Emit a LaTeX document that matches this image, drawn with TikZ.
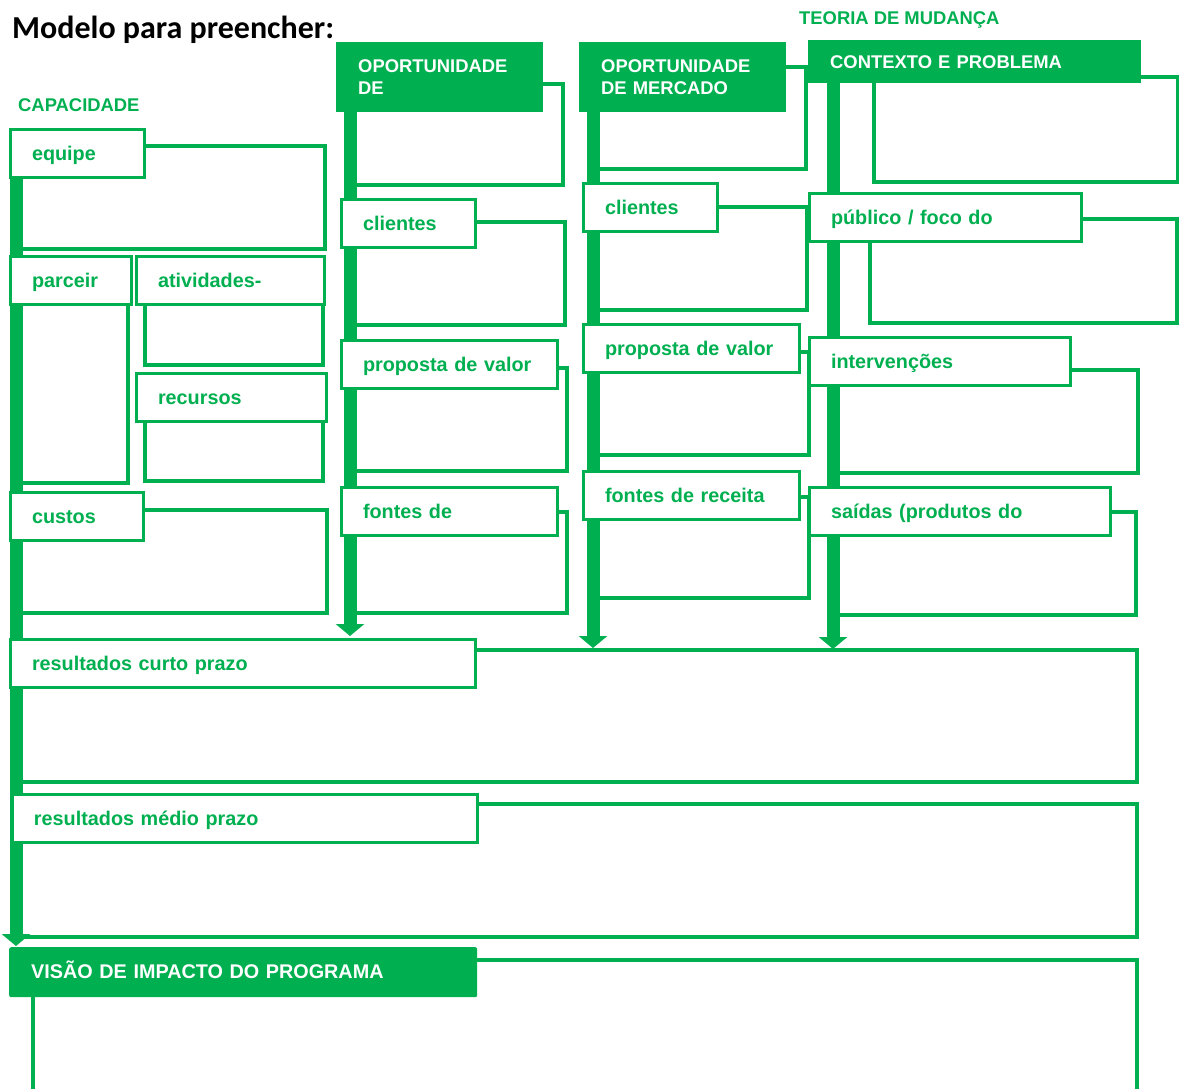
\documentclass[tikz,border=0pt]{standalone}
\usepackage{fontspec}
\setmainfont{Liberation Sans}
\newfontfamily\titlefont{Carlito}
\usetikzlibrary{arrows.meta,backgrounds}
\definecolor{ppgreen}{RGB}{0,176,80}

\begin{document}
\begin{tikzpicture}[x=1pt, y=-1pt,
  tag/.style={draw=ppgreen, fill=white, line width=3pt, anchor=north west, minimum height=48pt, inner xsep=21.5pt, inner ysep=0pt, text width=#1pt-43pt, text height=14pt, text depth=0pt, text=ppgreen, font=\bfseries\fontsize{19.8}{22}\selectfont},
  head/.style={fill=ppgreen, anchor=north west, inner xsep=22pt, inner ysep=0pt, text width=#1pt-44pt, align=left, text height=13.3pt, text=white, font=\bfseries\fontsize{18.4}{22}\selectfont},
  sect/.style={anchor=base west, inner sep=0pt, text=ppgreen, font=\bfseries\fontsize{18.4}{22}\selectfont},
  pane/.style={draw=ppgreen, line width=3.2pt},
  bar/.style={draw=ppgreen, line width=13pt, -{Triangle[length=12pt,width=28pt]}}
]
  \useasboundingbox (0,0) rectangle (1179,1088);

  % titles
  \node[anchor=base west, inner sep=0pt, font=\titlefont\bfseries\fontsize{32}{36}\selectfont] (title) at (12,38) {Modelo para preencher:};
  \node[sect] (capacidade) at (18,111) {CAPACIDADE};
  \node[sect] (teoria) at (799,24) {TEORIA DE MUDANÇA};

  % capacidade
  \node[tag=134] (equipe) at (9,128) {equipe};
  \node[tag=121] (parceir) at (9,255) {parceir};
  \node[tag=188] (ativ) at (135,255) {atividades-};
  \node[tag=190] (recursos) at (135,372) {recursos};
  \node[tag=133] (custos) at (9,491) {custos};
  \node[tag=465] (curto) at (9,638) {resultados curto prazo};
  \node[tag=465] (medio) at (11,793) {resultados médio prazo};

  % oportunidade de
  \node[head=207, minimum height=70pt] (oppa) at (336,42) {OPORTUNIDADE\\DE};
  \node[tag=134] (cliA) at (340,198) {clientes};
  \node[tag=216] (propA) at (340,339) {proposta de valor};
  \node[tag=216] (fontA) at (340,486) {fontes de};

  % oportunidade de mercado
  \node[head=207, minimum height=70pt] (oppb) at (579,42) {OPORTUNIDADE\\DE MERCADO};
  \node[tag=134] (cliB) at (582,182) {clientes};
  \node[tag=216] (propB) at (582,323) {proposta de valor};
  \node[tag=216] (fontB) at (582,470) {fontes de receita};

  % teoria de mudanca
  \node[head=333, minimum height=43pt] (ctx) at (808,40) {CONTEXTO E PROBLEMA};
  \node[tag=272] (publico) at (808,192) {público / foco do};
  \node[tag=261] (interv) at (808,336) {intervenções};
  \node[tag=301] (saidas) at (808,486) {saídas (produtos do};

  % impacto
  \node[head=468, minimum height=50pt, rounded corners=2pt, font=\bfseries\fontsize{19.8}{22}\selectfont] (visao) at (9,947) {VISÃO DE IMPACTO DO PROGRAMA};

  % arrow tips
  \coordinate (tipC) at (16,946);
  \coordinate (tipA) at (350,636);
  \coordinate (tipB) at (593,648);
  \coordinate (tipT) at (833,649);

  \begin{scope}[on background layer]
    % empty panes
    \foreach \xa/\ya/\xb/\yb in {16/146/325/249, 16/290/128/483, 145/290/323/365, 145/410/323/481,
        16/510/327/613, 16/650/1137/782, 16/804/1137/937,
        350/84/563/185, 350/222/565/325, 350/368/567/471, 350/512/567/613,
        593/67/806/169, 593/207/807/310, 593/352/809/455, 593/497/809/598,
        874/77/1178/182, 870/219/1177/323, 833/370/1138/473, 833/512/1136/615}
      \draw[pane] (\xa,\ya) rectangle (\xb,\yb);
    \draw[pane] (33,1090) |- (1137,960) -- (1137,1090);
    % bars
    \draw[bar] (tipC |- equipe.center) -- (tipC);
    \draw[bar] (tipA |- oppa.south) -- (tipA);
    \draw[bar] (tipB |- oppb.south) -- (tipB);
    \draw[bar] (tipT |- ctx.south) -- (tipT);
  \end{scope}
\end{tikzpicture}
\end{document}
